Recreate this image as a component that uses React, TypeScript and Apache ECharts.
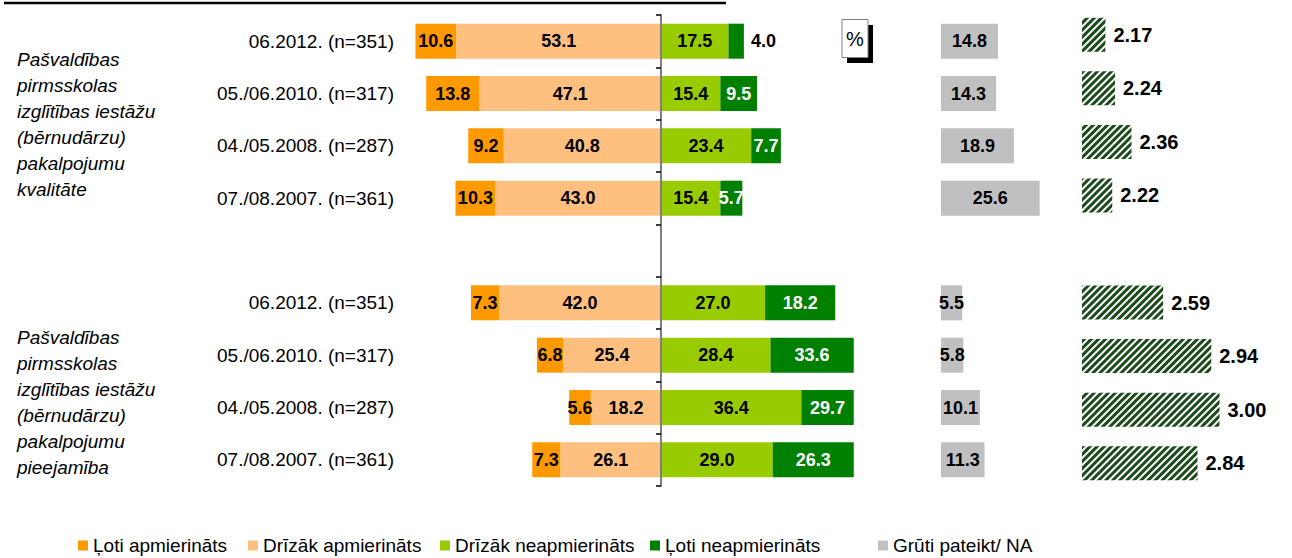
import React, { useEffect, useRef } from "react";
import * as echarts from "echarts";

const categories = [
  "06.2012. (n=351)",
  "05./06.2010. (n=317)",
  "04./05.2008. (n=287)",
  "07./08.2007. (n=361)",
  "",
  "06.2012. (n=351)",
  "05./06.2010. (n=317)",
  "04./05.2008. (n=287)",
  "07./08.2007. (n=361)",
];
const veryS = [10.6, 13.8, 9.2, 10.3, null, 7.3, 6.8, 5.6, 7.3];
const ratherS = [53.1, 47.1, 40.8, 43.0, null, 42.0, 25.4, 18.2, 26.1];
const ratherD = [17.5, 15.4, 23.4, 15.4, null, 27.0, 28.4, 36.4, 29.0];
const veryD = [4.0, 9.5, 7.7, 5.7, null, 18.2, 33.6, 29.7, 26.3];
const hard = [14.8, 14.3, 18.9, 25.6, null, 5.5, 5.8, 10.1, 11.3];
const avg = [2.17, 2.24, 2.36, 2.22, null, 2.59, 2.94, 3.0, 2.84];

const groupLabels = [
  "Pašvaldības\npirmsskolas\nizglītības iestāžu\n(bērnudārzu)\npakalpojumu\nkvalitāte",
  "Pašvaldības\npirmsskolas\nizglītības iestāžu\n(bērnudārzu)\npakalpojumu\npieejamība",
];
const legendNames = [
  "Ļoti apmierināts",
  "Drīzāk apmierināts",
  "Drīzāk neapmierināts",
  "Ļoti neapmierināts",
  "Grūti pateikt/ NA",
];

const FONT = "Liberation Sans, Arial, sans-serif";
const C_VS = "#FF9900";
const C_RS = "#FFBF7F";
const C_RD = "#99CC00";
const C_VD = "#008000";
const C_GR = "#C0C0C0";

export default function App() {
  const ref = useRef<HTMLDivElement>(null);
  useEffect(() => {
    if (!ref.current) return;
    const chart = echarts.init(ref.current, null, { renderer: "svg" });
    const k = 3.855;
    const X0 = 661;
    const absFmt = (p: any) =>
      p.value == null || p.value === "-" ? "" : Math.abs(Number(p.value)).toFixed(1);
    const lbl = (color: string) => ({
      show: true,
      position: "inside",
      color,
      fontWeight: "bold",
      fontSize: 18,
      fontFamily: FONT,
      formatter: absFmt,
    });
    const neg = (arr: (number | null)[]) => arr.map((v) => (v == null ? "-" : -v));
    const nul = (arr: (number | null)[]) => arr.map((v) => (v == null ? "-" : v));

    const legendX = [78, 248, 440, 650, 878];
    const gridBase = { outerBoundsMode: "none", containLabel: false };
    const option: any = {
      animation: false,
      grid: [
        { ...gridBase, left: X0 - 67 * k, top: 15, width: 117 * k, height: 471 },
        { ...gridBase, left: 941, top: 15, width: 30 * k, height: 471 },
        { ...gridBase, left: 1082, top: 8, width: 1.5 * 137.5, height: 482 },
        { ...gridBase, left: X0, top: 15, width: 20, height: 471 },
      ],
      xAxis: [
        { type: "value", gridIndex: 0, min: -67, max: 50, show: false },
        { type: "value", gridIndex: 1, min: 0, max: 30, show: false },
        { type: "value", gridIndex: 2, min: 2, max: 3.5, show: false },
        { type: "value", gridIndex: 3, min: 0, max: 1, show: false },
      ],
      yAxis: [
        {
          type: "category",
          gridIndex: 0,
          inverse: true,
          data: categories,
          axisLine: { show: false, onZero: false },
          axisTick: { show: false },
          axisLabel: { margin: X0 - 67 * k - 394, fontSize: 19, color: "#000", fontFamily: FONT, interval: 0 },
          splitLine: { show: false },
        },
        { type: "category", gridIndex: 1, inverse: true, data: categories, show: false },
        { type: "category", gridIndex: 2, inverse: true, data: categories, show: false },
        {
          type: "category",
          gridIndex: 3,
          inverse: true,
          data: categories,
          z: 5,
          axisLine: { show: true, onZero: false, lineStyle: { color: "#7f7f7f", width: 2 } },
          axisTick: { show: true, length: 5, interval: 0, lineStyle: { color: "#000", width: 1.5 } },
          axisLabel: { show: false },
          splitLine: { show: false },
        },
      ],
      legend: legendNames.map((n, i) => ({
        data: [n],
        left: legendX[i],
        top: 536,
        itemWidth: 10,
        itemHeight: 10,
        icon: "rect",
        selectedMode: false,
        padding: 0,
        textStyle: { fontSize: 19, color: "#000", fontFamily: FONT },
      })),
      series: [
        {
          name: "Drīzāk apmierināts",
          type: "bar",
          stack: "d",
          xAxisIndex: 0,
          yAxisIndex: 0,
          barWidth: 35,
          itemStyle: { color: C_RS },
          label: lbl("#000"),
          data: neg(ratherS),
        },
        {
          name: "Ļoti apmierināts",
          type: "bar",
          stack: "d",
          xAxisIndex: 0,
          yAxisIndex: 0,
          barWidth: 35,
          itemStyle: { color: C_VS },
          label: lbl("#000"),
          data: neg(veryS),
        },
        {
          name: "Drīzāk neapmierināts",
          type: "bar",
          stack: "d",
          xAxisIndex: 0,
          yAxisIndex: 0,
          barWidth: 35,
          itemStyle: { color: C_RD },
          label: lbl("#000"),
          data: nul(ratherD),
        },
        {
          name: "Ļoti neapmierināts",
          type: "bar",
          stack: "d",
          xAxisIndex: 0,
          yAxisIndex: 0,
          barWidth: 35,
          itemStyle: { color: C_VD },
          label: lbl("#fff"),
          data: veryD.map((v) =>
            v == null
              ? "-"
              : v < 5
              ? { value: v, label: { position: "right", color: "#000", distance: 7 } }
              : v
          ),
        },
        {
          name: "Grūti pateikt/ NA",
          type: "bar",
          xAxisIndex: 1,
          yAxisIndex: 1,
          barWidth: 35,
          itemStyle: { color: C_GR },
          label: lbl("#000"),
          data: nul(hard),
        },
        {
          name: "Vidējais",
          type: "bar",
          xAxisIndex: 2,
          yAxisIndex: 2,
          barWidth: 34,
          clip: true,
          itemStyle: {
            color: "#ffffff",
            decal: {
              symbol: "rect",
              symbolSize: 1,
              dashArrayX: [1, 0],
              dashArrayY: [2.4, 1.8],
              rotation: -Math.PI / 4,
              color: "#1C4A1C",
            },
          },
          label: {
            show: true,
            position: "right",
            distance: 8,
            color: "#000",
            fontWeight: "bold",
            fontSize: 20,
            fontFamily: FONT,
            formatter: (p: any) => Number(p.value).toFixed(2),
          },
          data: nul(avg),
        },
      ],
      graphic: [
        {
          type: "line",
          shape: { x1: 4, y1: 3, x2: 726, y2: 3 },
          style: { stroke: "#000", lineWidth: 2.5 },
        },
        {
          type: "rect",
          shape: { x: 847, y: 25, width: 26, height: 38 },
          style: { fill: "#000" },
        },
        {
          type: "rect",
          shape: { x: 842, y: 19.5, width: 26, height: 38 },
          style: { fill: "#fff", stroke: "#808080", lineWidth: 1 },
        },
        {
          type: "text",
          x: 855,
          y: 38.5,
          style: {
            text: "%",
            fill: "#000",
            fontSize: 20,
            fontFamily: FONT,
            align: "center",
            verticalAlign: "middle",
          },
        },
        ...groupLabels.map((t, i) => ({
          type: "text",
          x: 17,
          y: i === 0 ? 124 : 402,
          style: {
            text: t,
            fill: "#000",
            fontSize: 19,
            fontStyle: "italic",
            fontFamily: FONT,
            lineHeight: 26,
            align: "left",
            verticalAlign: "middle",
          },
        })),
      ],
    };
    chart.setOption(option);
    return () => chart.dispose();
  }, []);
  return (
    <div
      ref={ref}
      style={{ position: "fixed", left: 0, top: 0, width: 1292, height: 558, background: "#fff" }}
    />
  );
}
